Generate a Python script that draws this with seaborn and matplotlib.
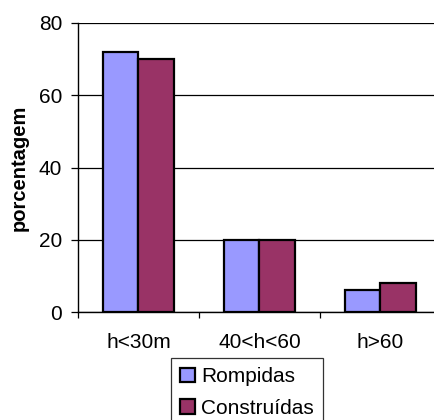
import matplotlib
matplotlib.use("Agg")
import matplotlib.pyplot as plt
import seaborn as sns
import pandas as pd
from matplotlib.patches import Patch

categories = ["h<30m", "40<h<60", "h>60"]
series = ["Rompidas", "Construídas"]
rompidas = [72, 20, 6]
construidas = [70, 20, 8]
colors = ["#9999FF", "#993366"]

df = pd.DataFrame({
    "cat": categories * 2,
    "serie": [series[0]] * 3 + [series[1]] * 3,
    "val": rompidas + construidas,
})

sns.set_theme(style="white")
plt.rcParams["font.family"] = ["Liberation Sans", "DejaVu Sans"]
plt.rcParams["text.color"] = "black"
plt.rcParams["axes.labelcolor"] = "black"
plt.rcParams["xtick.color"] = "black"
plt.rcParams["ytick.color"] = "black"

fig = plt.figure(figsize=(4.35, 4.2), dpi=100)
ax = fig.add_axes([78 / 435, 108 / 420, 363 / 435, 289 / 420])

sns.barplot(data=df, x="cat", y="val", hue="serie", palette=colors,
            width=0.58, edgecolor="black", linewidth=1.6, ax=ax,
            legend=False, saturation=1)

ax.set_ylim(0, 80)
ax.set_xlim(-0.5, 2.5)
ax.set_yticks([0, 20, 40, 60, 80])
ax.yaxis.grid(True, color="black", linewidth=0.9)
ax.set_axisbelow(True)
for s in ["top", "right"]:
    ax.spines[s].set_visible(False)
for s in ["left", "bottom"]:
    ax.spines[s].set_color("black")
    ax.spines[s].set_linewidth(1.0)

ax.tick_params(axis="y", which="major", direction="out", length=5, width=0.9,
               color="black", labelsize=15, pad=6.5, left=True)
ax.set_xticks([-0.5, 0.5, 1.5, 2.5], minor=True)
ax.tick_params(axis="x", which="minor", direction="out", length=4.5, width=0.9,
               color="black", bottom=True)
ax.tick_params(axis="x", which="major", length=0, labelsize=15, pad=15)

ax.set_xlabel("")
ax.set_ylabel("porcentagem", fontsize=14.5, fontweight="bold", labelpad=7)

handles = [Patch(facecolor=c, edgecolor="black", linewidth=1.6) for c in colors]
leg = fig.legend(handles, series, loc="upper left",
                 bbox_to_anchor=(171 / 435, 62 / 420), fontsize=15,
                 frameon=True, fancybox=False, handlelength=0.7,
                 handleheight=0.7, handletextpad=0.3, labelspacing=0.6,
                 borderpad=0.45, borderaxespad=0)
leg.get_frame().set_edgecolor("black")
leg.get_frame().set_linewidth(0.9)

fig.savefig("out.png", dpi=100)
